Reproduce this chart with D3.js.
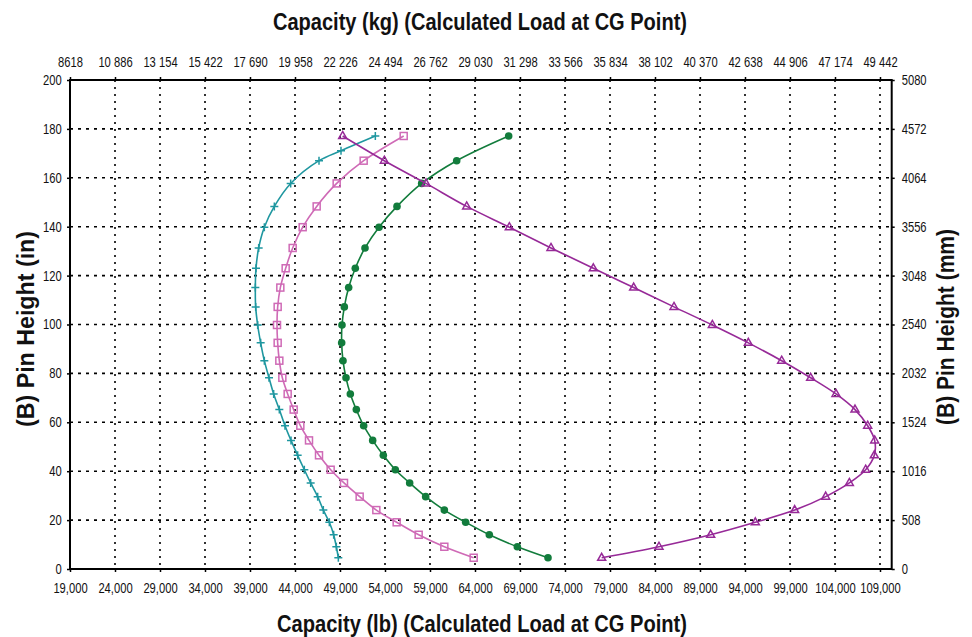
<!DOCTYPE html>
<html>
<head>
<meta charset="utf-8">
<script src="https://cdn.jsdelivr.net/npm/d3@7"></script>
<style>
  body { margin: 0; background: #fff; }
  svg text { font-family: "Liberation Sans", Arial, sans-serif; fill: #111; }
</style>
</head>
<body>
<svg id="chart" width="972" height="637"></svg>
<script>
// pin heights (in) shared by every series
const heights = [4.6, 9.1, 14.0, 19.1, 24.1, 29.6, 35.2, 40.6, 46.5, 52.6, 58.6, 65.2, 71.6, 78.2,
                 85.2, 92.5, 99.8, 107.2, 115.1, 123.0, 131.3, 139.8, 148.3, 157.7, 167.0, 177.1];
const tealHeights = heights.slice(0, 25).concat([171.1, 177.1]);

// capacities (lb)
const tealValues = [48815, 48593, 48296, 47815, 47148, 46519, 45741, 45037, 44296, 43556, 42889, 42259,
                    41630, 41111, 40593, 40185, 39852, 39630, 39593, 39667, 39963, 40593, 41704, 43519,
                    46667, 49111, 52926];
const pinkValues = [63852, 60593, 57741, 55296, 53037, 51185, 49444, 47963, 46667, 45556, 44593, 43852,
                    43185, 42593, 42259, 42074, 42000, 42074, 42370, 42963, 43741, 44852, 46407, 48630,
                    51630, 56078];
const greenValues = [72111, 68704, 65593, 62963, 60593, 58519, 56741, 55148, 53815, 52630, 51630, 50815,
                     50148, 49667, 49333, 49185, 49222, 49481, 49963, 50700, 51778, 53333, 55333, 58074,
                     61963, 67741];
const purpleValues = [78074, 84444, 90185, 95148, 99519, 102963, 105593, 107407, 108370, 108407, 107630,
                      106222, 104111, 101296, 98074, 94370, 90370, 86111, 81630, 77148, 72444, 67815,
                      63074, 58556, 53926, 49296];

const lbTicks = [19000, 24000, 29000, 34000, 39000, 44000, 49000, 54000, 59000, 64000, 69000, 74000,
                 79000, 84000, 89000, 94000, 99000, 104000, 109000];
const kgLabels = ['8618', '10 886', '13 154', '15 422', '17 690', '19 958', '22 226', '24 494', '26 762',
                  '29 030', '31 298', '33 566', '35 834', '38 102', '40 370', '42 638', '44 906', '47 174',
                  '49 442'];
const inTicks = [0, 20, 40, 60, 80, 100, 120, 140, 160, 180, 200];
const mmLabels = ['0', '508', '1016', '1524', '2032', '2540', '3048', '3556', '4064', '4572', '5080'];

const svg = d3.select('#chart');
const plot = { left: 70, right: 891.7, top: 80, bottom: 569 };
const squeeze = 0.8; // the source uses a condensed face

const x = d3.scaleLinear().domain([19000, 110300]).range([plot.left, plot.right]);
const y = d3.scaleLinear().domain([0, 200]).range([plot.bottom, plot.top]);

// grid
const grid = svg.append('g');
grid.selectAll('line.v').data(lbTicks.slice(1)).enter().append('line')
    .attr('x1', d => x(d)).attr('x2', d => x(d))
    .attr('y1', plot.top).attr('y2', plot.bottom)
    .attr('stroke', '#000').attr('stroke-width', 1.6).attr('stroke-dasharray', '2,5');
grid.selectAll('line.h').data(inTicks.slice(1, -1)).enter().append('line')
    .attr('x1', plot.left).attr('x2', plot.right)
    .attr('y1', d => y(d)).attr('y2', d => y(d))
    .attr('stroke', '#000').attr('stroke-width', 1.6).attr('stroke-dasharray', '3,5');

// axes
const fmt = d3.format(',');
svg.append('g').attr('transform', `translate(0,${plot.bottom})`)
    .call(d3.axisBottom(x).tickValues(lbTicks).tickFormat(fmt).tickSize(3).tickPadding(11))
    .call(g => g.select('.domain').remove());
svg.append('g').attr('transform', `translate(0,${plot.top})`)
    .call(d3.axisTop(x).tickValues(lbTicks).tickFormat((d, i) => kgLabels[i]).tickSize(3).tickPadding(10))
    .call(g => g.select('.domain').remove());
svg.append('g').attr('transform', `translate(${plot.left},0)`)
    .call(d3.axisLeft(y).tickValues(inTicks).tickSize(3).tickPadding(7.5))
    .call(g => g.select('.domain').remove());
svg.append('g').attr('transform', `translate(${plot.right},0)`)
    .call(d3.axisRight(y).tickValues(inTicks).tickFormat((d, i) => mmLabels[i]).tickSize(3).tickPadding(9.5))
    .call(g => g.select('.domain').remove());
svg.selectAll('.tick line').attr('stroke', '#000').attr('stroke-width', 1.5);
svg.selectAll('.tick text')
    .style('font-size', '14px')
    .attr('transform', `scale(${squeeze},1)`);

// frame
svg.append('rect')
    .attr('x', plot.left).attr('y', plot.top)
    .attr('width', plot.right - plot.left).attr('height', plot.bottom - plot.top)
    .attr('fill', 'none').attr('stroke', '#000').attr('stroke-width', 2);

// series
const series = [
  { name: 'teal', color: '#1f97a0', h: tealHeights, v: tealValues, marker: 'plus' },
  { name: 'pink', color: '#cf6ab6', h: heights, v: pinkValues, marker: 'square' },
  { name: 'green', color: '#127c3c', h: heights, v: greenValues, marker: 'circle' },
  { name: 'purple', color: '#972a98', h: heights, v: purpleValues, marker: 'triangle' }
];

const line = d3.line().x(d => x(d[0])).y(d => y(d[1])).curve(d3.curveCatmullRom.alpha(0.5));

series.forEach(s => {
  const pts = s.v.map((v, i) => [v, s.h[i]]);
  const g = svg.append('g');
  g.append('path').datum(pts).attr('d', line)
      .attr('fill', 'none').attr('stroke', s.color).attr('stroke-width', 1.6);
  const m = g.selectAll('g.m').data(pts).enter().append('g')
      .attr('transform', d => `translate(${x(d[0])},${y(d[1])})`);
  if (s.marker === 'circle') {
    m.append('circle').attr('r', 3.8).attr('fill', s.color);
  } else if (s.marker === 'square') {
    m.append('rect').attr('x', -3.5).attr('y', -3.5).attr('width', 7).attr('height', 7)
        .attr('fill', 'none').attr('stroke', s.color).attr('stroke-width', 1.5);
  } else if (s.marker === 'triangle') {
    m.append('path').attr('d', 'M0,-4.5L4,2.5L-4,2.5Z')
        .attr('fill', 'none').attr('stroke', s.color).attr('stroke-width', 1.5);
  } else {
    m.append('path').attr('d', 'M-4,0H4M0,-4V4')
        .attr('stroke', s.color).attr('stroke-width', 1.5);
  }
});

// titles
function title(t, len, transform) {
  svg.append('text').attr('transform', transform).attr('text-anchor', 'middle')
      .attr('textLength', len).attr('lengthAdjust', 'spacingAndGlyphs')
      .style('font-size', '23px').style('font-weight', 'bold')
      .text(t);
}
title('Capacity (kg) (Calculated Load at CG Point)', 414, 'translate(480,30)');
title('Capacity (lb) (Calculated Load at CG Point)', 410, 'translate(482,632)');
title('(B) Pin Height (in)', 196, 'translate(34,329) rotate(-90)');
title('(B) Pin Height (mm)', 196, 'translate(954,327) rotate(-90)');
</script>
</body>
</html>
